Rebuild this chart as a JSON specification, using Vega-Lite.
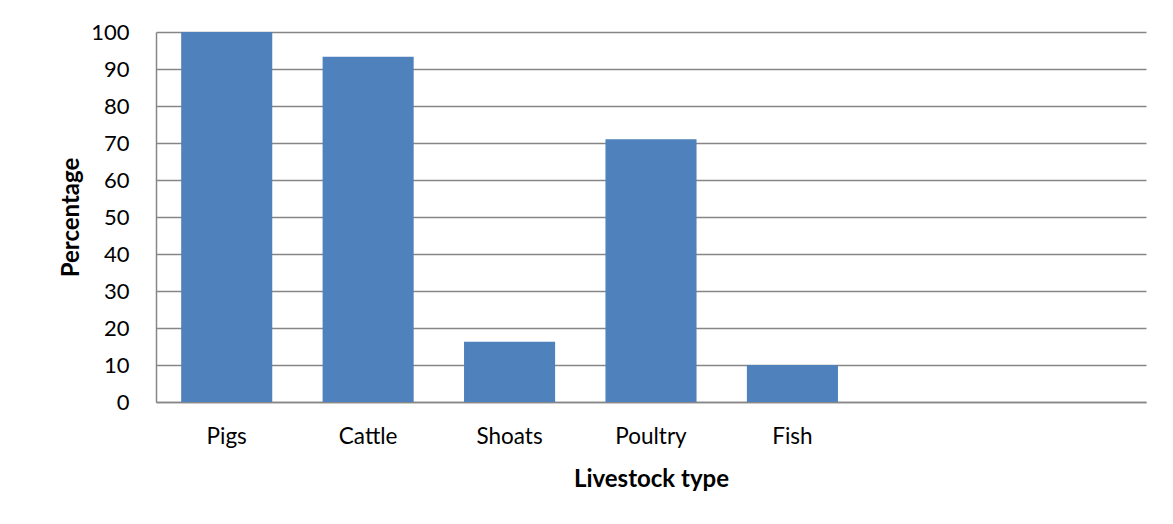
{
  "$schema": "https://vega.github.io/schema/vega-lite/v6.json",
  "width": 990,
  "height": 370,
  "autosize": {"type": "none"},
  "padding": {"left": 156, "top": 32, "right": 27, "bottom": 122},
  "background": "white",
  "data": {
    "values": [
      {"livestock": "Pigs", "percentage": 100},
      {"livestock": "Cattle", "percentage": 93.3},
      {"livestock": "Shoats", "percentage": 16.3},
      {"livestock": "Poultry", "percentage": 71},
      {"livestock": "Fish", "percentage": 10}
    ]
  },
  "mark": {"type": "bar", "color": "#4F81BD"},
  "encoding": {
    "x": {
      "field": "livestock",
      "type": "nominal",
      "scale": {
        "domain": ["Pigs", "Cattle", "Shoats", "Poultry", "Fish", " ", "  "],
        "paddingInner": 0.356,
        "paddingOuter": 0.178
      },
      "axis": {
        "title": "Livestock type",
        "labelAngle": 0,
        "labelFont": "Lato",
        "labelFontSize": 22.5,
        "labelColor": "#000000",
        "labelPadding": 23,
        "ticks": false,
        "domainColor": "#868686",
        "domainWidth": 1.5,
        "titleFont": "Lato",
        "titleFontSize": 24,
        "titleFontWeight": "bold",
        "titleColor": "#000000",
        "titlePadding": 20
      }
    },
    "y": {
      "field": "percentage",
      "type": "quantitative",
      "scale": {"domain": [0, 100], "nice": false},
      "axis": {
        "title": "Percentage",
        "values": [0, 10, 20, 30, 40, 50, 60, 70, 80, 90, 100],
        "labelFont": "Lato",
        "labelFontSize": 22,
        "labelColor": "#000000",
        "labelPadding": 27,
        "ticks": false,
        "grid": true,
        "gridColor": "#868686",
        "gridWidth": 1.5,
        "domainColor": "#868686",
        "domainWidth": 1.5,
        "titleFont": "Lato",
        "titleFontSize": 24,
        "titleFontWeight": "bold",
        "titleColor": "#000000",
        "titlePadding": 7
      }
    }
  },
  "config": {"view": {"stroke": null}}
}
